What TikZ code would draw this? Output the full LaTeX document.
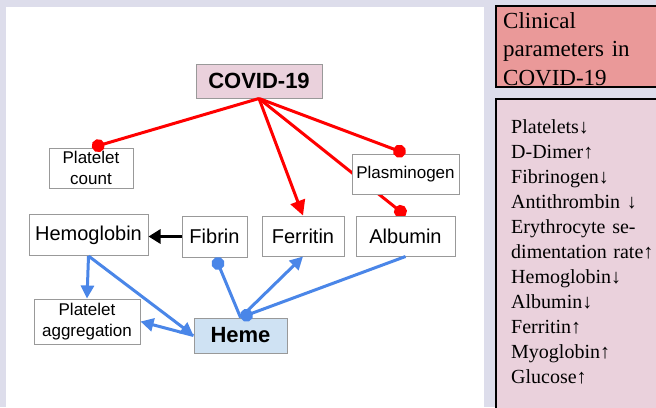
\documentclass[tikz,border=0pt]{standalone}
\usepackage{fontspec}
\setmainfont{Liberation Serif}
\setsansfont{Liberation Sans}
\usetikzlibrary{arrows.meta,backgrounds}

\definecolor{pagebg}{RGB}{221,221,235}
\definecolor{covidfill}{RGB}{234,209,220}
\definecolor{hemefill}{RGB}{207,226,243}
\definecolor{clinfill}{RGB}{234,153,153}
\definecolor{boxline}{RGB}{153,153,153}
\definecolor{hemeblue}{RGB}{74,134,232}

\tikzset{
  factor/.style={draw=boxline,line width=1pt,fill=white,inner sep=0pt,align=center,
    font=\sffamily\fontsize{20}{24}\selectfont},
  smallfactor/.style={factor,font=\sffamily\fontsize{17}{21}\selectfont},
  keyfactor/.style={factor,font=\sffamily\bfseries\fontsize{22}{26}\selectfont},
  redlink/.style={draw=red,line width=3pt},
  bluelink/.style={draw=hemeblue,line width=3pt},
  dotend/.style={-{Circle[length=13pt]}},
  bigtip/.style={-{Triangle[length=15pt,width=15pt]}},
  smalltip/.style={-{Triangle[length=13pt,width=13pt]}},
}

\begin{document}
\begin{tikzpicture}[x=1pt,y=1pt,yscale=-1,xscale=1]
	\useasboundingbox (0,0) rectangle (656,407);
	
	%Background panels
	\begin{pgfonlayer}{background}
		\fill[pagebg] (0,0) rectangle (656,407);
		\fill[white] (6,7) rectangle (484,412);
	\end{pgfonlayer}
	
	% Factor nodes
	\node[keyfactor,fill=covidfill,minimum width=126pt,minimum height=34pt] (covid) at (259,81) {COVID-19};
	\node[smallfactor,minimum width=84pt,minimum height=40pt] (pcount) at (91,168) {Platelet\\count};
	\node[smallfactor,minimum width=107pt,minimum height=40pt] (plasmin) at (405.5,174) {Plasminogen};
	\node[factor,minimum width=119pt,minimum height=41pt] (hemo) at (88.5,235) {Hemoglobin};
	\node[factor,minimum width=65pt,minimum height=41pt] (fibrin) at (214.5,236.5) {Fibrin};
	\node[factor,minimum width=82pt,minimum height=40pt] (ferritin) at (303,236) {Ferritin};
	\node[factor,minimum width=99pt,minimum height=40pt] (albumin) at (405.5,236) {Albumin};
	\node[smallfactor,minimum width=106pt,minimum height=45pt] (paggr) at (87,321.5) {Platelet\\aggregation};
	\node[keyfactor,fill=hemefill,minimum width=93pt,minimum height=35pt] (heme) at (240.5,335.5) {Heme};
	
	% COVID-19 links
	\draw[redlink,dotend] (covid.south) -- ([xshift=1pt]pcount.north);
	\draw[redlink,bigtip] (covid.south) -- (ferritin.north);
	\draw[redlink,dotend] (covid.south) -- (plasmin.north);
	\begin{scope}[on background layer]
		%runs behind Plasminogen
		\draw[redlink,dotend] (covid.south) -- (albumin.north);
	\end{scope}
	
	% Fibrin to Hemoglobin
	\draw[line width=3pt,-{Triangle[length=12pt,width=14pt]}] (fibrin.west) -- (hemo.east |- fibrin.west);
	
	% Heme links
	\draw[bluelink,smalltip] (hemo.south) -- (paggr.north);
	\draw[bluelink,smalltip] (hemo.south) -- (heme.west);
	\draw[bluelink,smalltip] (heme.west) -- (paggr.east);
	\draw[bluelink,dotend] (heme.north) -- ([xshift=1pt]fibrin.south);
	\draw[bluelink,smalltip] (heme.north) -- (ferritin.south);
	\draw[bluelink,dotend] (albumin.south) -- (heme.north);
	
	%Right panel
	\draw[fill=clinfill,line width=1.2pt] (496,6) rectangle (690,87);
	\draw[fill=covidfill,line width=1.2pt] (496,99) rectangle (690,420);
	
	% Text Node
	\node[anchor=base west,text width=180pt,align=left,inner sep=0pt,font=\fontsize{23}{28.5}\selectfont] (clinhead) at (503,28)
		{Clinical\\parameters in\\COVID-19};
	% Text Node
	\node[anchor=base west,text width=200pt,align=left,inner sep=0pt,font=\fontsize{20}{25}\selectfont] (clinlist) at (511,133)
		{Platelets↓\\D-Dimer↑\\Fibrinogen↓\\Antithrombin ↓\\Erythrocyte se-\\dimentation rate↑\\Hemoglobin↓\\Albumin↓\\Ferritin↑\\Myoglobin↑\\Glucose↑};
\end{tikzpicture}
\end{document}
